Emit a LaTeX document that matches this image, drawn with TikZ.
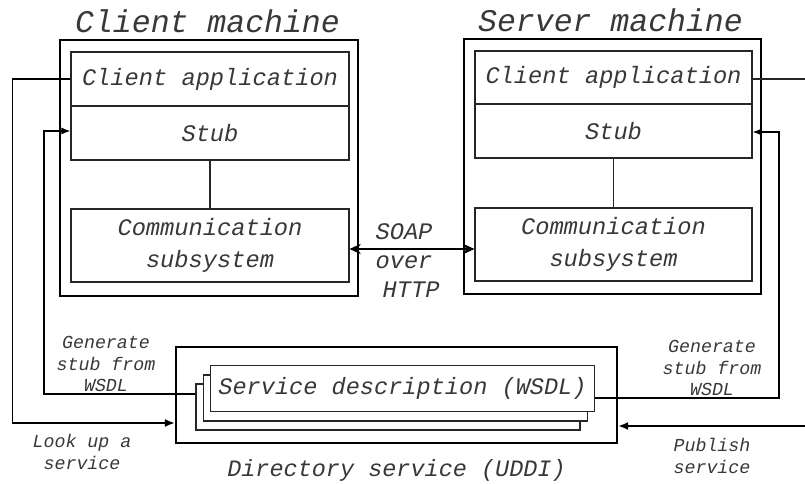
\documentclass[tikz,border=0pt]{standalone}
\usepackage{fontspec}
\newfontfamily\cour{Liberation Mono}
\usetikzlibrary{arrows.meta,calc}

\tikzset{
  machine/.style={draw, line width=2.2pt, minimum width=298, minimum height=256, inner sep=0},
  part/.style={draw=black!85, line width=1.1pt, minimum width=278, inner sep=0, align=center,
               font=\cour\itshape\fontsize{23.7}{32}\selectfont, text=black!78},
  sheet/.style={draw=black!85, line width=1.1pt, fill=white, minimum width=384, minimum height=46, inner sep=0},
  title/.style={font=\cour\itshape\fontsize{31.5}{36}\selectfont, text=black!78},
  label/.style={font=\cour\itshape\fontsize{18.3}{21.5}\selectfont, text=black!78, align=center},
  conn/.style={line width=1.2pt, draw=black!85},
  tip/.style={line width=1.3pt, -{Latex[length=9pt,width=7pt]}},
  bigtip/.style={line width=1.8pt, -{Latex[length=10pt,width=8pt]}},
}

\begin{document}
\begin{tikzpicture}[x=1pt,y=-1pt]
\useasboundingbox (0,0) rectangle (805,484);

% client machine
\node[machine] (cm) at (209,168) {};
\node[title] (cmt) at (207.5,21) {Client machine};
\node[part, minimum height=54] (ca) at (210,79) {Client application};
\node[part, minimum height=54] (cs) at (210,133) {Stub};
\node[part, minimum height=73] (cc) at (210,245.5) {Communication\\subsystem};

% server machine
\node[machine, minimum width=297, minimum height=255] (sm) at (612.5,166.5) {};
\node[title] (smt) at (610.5,20) {Server machine};
\node[part, minimum width=277, minimum height=53] (sa) at (613.5,77.5) {Client application};
\node[part, minimum width=277, minimum height=54] (ss) at (613.5,131) {Stub};
\node[part, minimum width=277, minimum height=73] (sc) at (613.5,244.5) {Communication\\subsystem};

% directory service with its stack of WSDL sheets
\node[draw, line width=2.2pt, minimum width=441, minimum height=96, inner sep=0] (uddi) at (396.5,395) {};
\node[sheet] (sh3) at (388,407) {};
\node[sheet] (sh2) at (395.5,398) {};
\node[sheet, font=\cour\itshape\fontsize{23.6}{28}\selectfont, text=black!78] (sh1) at (402.5,388.5) {Service description (WSDL)};
\node[title, font=\cour\itshape\fontsize{23.5}{28}\selectfont] (ut) at (396.5,470) {Directory service (UDDI)};

% inner links
\draw[conn] (cs.south) -- (cc.north);
\draw[conn] (ss.south) -- (sc.north);

% SOAP over HTTP
\coordinate (soapy) at (0,249);
\draw[line width=2.4pt, {Stealth[length=11pt,width=10pt,inset=3pt]}-{Stealth[length=11pt,width=10pt,inset=3pt]}]
  (cc.east |- soapy) -- (sc.west |- soapy);
\node[label, font=\cour\itshape\fontsize{23.7}{29}\selectfont] (soap) at (404,261) {SOAP\\over\\\ HTTP};

% look up a service
\coordinate (lkx) at (12.5,423);
\draw[bigtip] (ca.west) -- (lkx |- ca.west) -- (lkx) -- (uddi.west |- lkx);
\node[label] (lk) at (82,452) {Look up a\\service};

% generate stub on the client side
\coordinate (gcx) at (44,394);
\coordinate (gcy) at (0,131);
\draw[tip] (sh3.west |- gcx) -- (gcx) -- (gcx |- gcy) -- (cs.west |- gcy);
\node[label] (gc) at (106,364) {Generate\\stub from\\WSDL};

% generate stub on the server side
\coordinate (gsx) at (779,398);
\coordinate (gsy) at (0,132);
\draw[tip] (sh1.east |- gsx) -- (gsx) -- (gsx |- gsy) -- (ss.east |- gsy);
\node[label] (gs) at (712,368) {Generate\\stub from\\WSDL};

% server application leaves to the right
\coordinate (pubout) at (805,79);
\draw[conn] (sa.east |- pubout) -- (pubout);

% publish service
\coordinate (pubin) at (805,426);
\draw[bigtip] (pubin) -- (uddi.east |- pubin);
\node[label] (pb) at (712,456) {Publish\\service};
\end{tikzpicture}
\end{document}
